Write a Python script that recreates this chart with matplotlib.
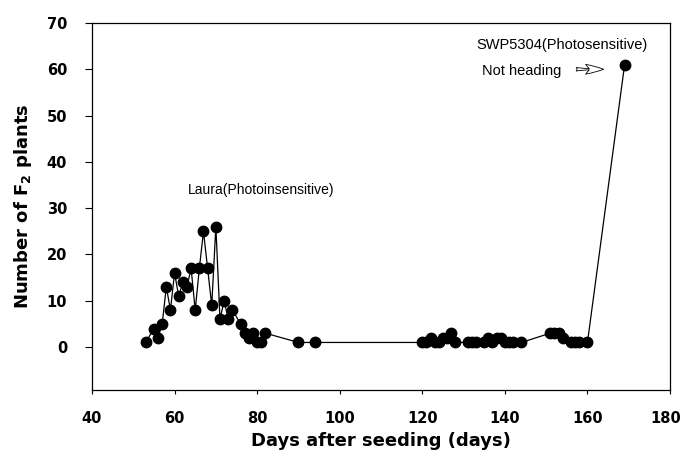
import matplotlib
matplotlib.use("Agg")
import matplotlib.pyplot as plt
import matplotlib.transforms as mtransforms

days = [53, 55, 56, 57, 58, 59, 60, 61, 62, 63, 64, 65, 66, 67, 68, 69, 70,
        71, 72, 73, 74, 76, 77, 78, 79, 80, 81, 82, 90, 94,
        120, 121, 122, 123, 124, 125, 126, 127, 128, 131, 132, 133,
        135, 136, 137, 138, 139, 140, 141, 142, 144,
        151, 152, 153, 154, 156, 157, 158, 160, 169]
plants = [1, 4, 2, 5, 13, 8, 16, 11, 14, 13, 17, 8, 17, 25, 17, 9, 26,
          6, 10, 6, 8, 5, 3, 2, 3, 1, 1, 3, 1, 1,
          1, 1, 2, 1, 1, 2, 2, 3, 1, 1, 1, 1,
          1, 2, 1, 2, 2, 1, 1, 1, 1,
          3, 3, 3, 2, 1, 1, 1, 1, 61]

xticks = [40, 60, 80, 100, 120, 140, 160, 180]
yticks = [0, 10, 20, 30, 40, 50, 60, 70]

plt.rcParams['font.family'] = ['Liberation Sans', 'DejaVu Sans']

fig = plt.figure(figsize=(6.83, 4.59), dpi=100)
ax = fig.add_axes([0.1347, 0.150, 0.981 - 0.1347, 0.80])

ax.plot(days, plants, color='black', lw=0.9, marker='o', markersize=7.5,
        markerfacecolor='black', markeredgecolor='black')

ax.set_xlim(40, 180)
ax.set_ylim(-9.3, 70)
ax.set_xticks(xticks)
ax.set_yticks(yticks)
ax.tick_params(axis='y', direction='out', length=5, width=0.8, pad=13,
               right=False)
ax.tick_params(axis='x', direction='out', length=3, width=0.8, pad=12,
               top=False)
for lab in ax.get_xticklabels() + ax.get_yticklabels():
    lab.set_fontfamily('DejaVu Sans')
    lab.set_fontweight('bold')
    lab.set_fontsize(10.5)
last = ax.get_xticklabels()[-1]
last.set_transform(last.get_transform() +
                   mtransforms.ScaledTranslation(-3 / 72, 0, fig.dpi_scale_trans))
for s in ax.spines.values():
    s.set_linewidth(0.9)

ax.set_xlabel('Days after seeding (days)', fontsize=13, fontweight='bold',
              family='DejaVu Sans', labelpad=4)
ax.set_ylabel('Number of F$_\\mathbf{2}$ plants', fontsize=13,
              fontweight='bold', family='DejaVu Sans', labelpad=9)

ax.text(81, 33.9, 'Laura(Photoinsensitive)', fontsize=10, ha='center',
        va='center')
ax.text(153.9, 65.2, 'SWP5304(Photosensitive)', fontsize=10.5, ha='center',
        va='center')
ax.text(134.5, 59.6, 'Not heading', fontsize=10.5, ha='left', va='center')
ax.annotate('', xy=(164.6, 60.0), xytext=(156.6, 60.0),
            arrowprops=dict(arrowstyle='fancy,head_length=1.3,head_width=0.7,tail_width=0.25',
                            fc='white', ec='black', lw=0.6))

fig.savefig('out.png', dpi=100)
